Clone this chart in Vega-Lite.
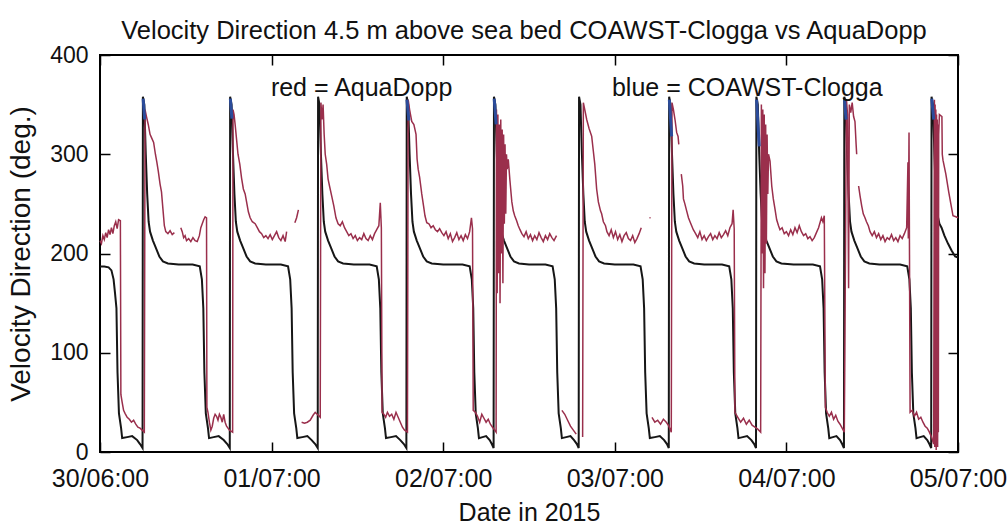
{
"$schema": "https://vega.github.io/schema/vega-lite/v6.json",
"width": 858,
"height": 397,
"autosize": "none",
"padding": {"left": 100, "top": 55, "right": 49, "bottom": 76},
"background": "white",
"config": {"view": {"stroke": "#000000", "strokeWidth": 2}, "font": "Liberation Sans"},
"title": {"text": "Velocity Direction 4.5 m above sea bed COAWST-Clogga vs AquaDopp", "fontSize": 25.5, "fontWeight": "normal", "color": "#111111", "offset": 0, "dx": -5, "font": "Liberation Sans"},
"datasets": {
"model": [
{"h":0,"v":187},{"h":0.6,"v":187},{"h":1.2,"v":186},{"h":1.6,"v":183},{"h":1.9,"v":174},{"h":2.1,"v":160},{"h":2.3,"v":145},{"h":2.45,"v":80},{"h":2.65,"v":39},{"h":2.95,"v":24},{"h":3.1,"v":14},{"h":3.8,"v":15},{"h":4.5,"v":16},{"h":5.2,"v":12},{"h":5.6,"v":8},{"h":5.95,"v":4},
{"h":6.0,"v":358},{"h":6.2,"v":350},{"h":6.4,"v":300},{"h":6.6,"v":260},{"h":6.8,"v":232},{"h":7.0,"v":222},{"h":7.4,"v":213},{"h":7.8,"v":206},{"h":8.3,"v":197},{"h":8.8,"v":192},{"h":9.5,"v":190},{"h":11.0,"v":189},{"h":12.95,"v":189},{"h":13.95,"v":187},{"h":14.25,"v":174},{"h":14.45,"v":145},{"h":14.6,"v":80},{"h":14.8,"v":39},{"h":15.1,"v":24},{"h":15.25,"v":14},{"h":15.9,"v":15},{"h":16.6,"v":16},{"h":17.3,"v":12},{"h":17.8,"v":8},{"h":18.15,"v":4},
{"h":18.2,"v":358},{"h":18.4,"v":350},{"h":18.6,"v":300},{"h":18.8,"v":260},{"h":19.0,"v":232},{"h":19.2,"v":222},{"h":19.6,"v":213},{"h":20.0,"v":206},{"h":20.5,"v":197},{"h":21.0,"v":192},{"h":21.7,"v":190},{"h":23.2,"v":189},{"h":25.3,"v":189},{"h":26.3,"v":187},{"h":26.6,"v":174},{"h":26.8,"v":145},{"h":26.95,"v":80},{"h":27.15,"v":39},{"h":27.45,"v":24},{"h":27.6,"v":14},{"h":28.3,"v":15},{"h":29.0,"v":16},{"h":29.6,"v":12},{"h":30.1,"v":8},{"h":30.45,"v":4},
{"h":30.5,"v":358},{"h":30.7,"v":350},{"h":30.9,"v":300},{"h":31.1,"v":260},{"h":31.3,"v":232},{"h":31.5,"v":222},{"h":31.9,"v":213},{"h":32.3,"v":206},{"h":32.8,"v":197},{"h":33.3,"v":192},{"h":34.0,"v":190},{"h":35.5,"v":189},{"h":37.7,"v":189},{"h":38.7,"v":187},{"h":39.0,"v":174},{"h":39.2,"v":145},{"h":39.35,"v":80},{"h":39.55,"v":39},{"h":39.85,"v":24},{"h":40.0,"v":14},{"h":40.7,"v":15},{"h":41.4,"v":16},{"h":42.0,"v":12},{"h":42.5,"v":8},{"h":42.85,"v":4},
{"h":42.9,"v":358},{"h":43.1,"v":350},{"h":43.3,"v":300},{"h":43.5,"v":260},{"h":43.7,"v":232},{"h":43.9,"v":222},{"h":44.3,"v":213},{"h":44.7,"v":206},{"h":45.2,"v":197},{"h":45.7,"v":192},{"h":46.4,"v":190},{"h":48.0,"v":189},{"h":50.7,"v":189},{"h":51.7,"v":187},{"h":52.0,"v":174},{"h":52.2,"v":145},{"h":52.35,"v":80},{"h":52.55,"v":39},{"h":52.85,"v":24},{"h":53.0,"v":14},{"h":53.5,"v":15},{"h":54.0,"v":16},{"h":54.5,"v":12},{"h":54.8,"v":8},{"h":55.05,"v":4},
{"h":55.1,"v":358},{"h":55.3,"v":350},{"h":55.5,"v":300},{"h":55.7,"v":260},{"h":55.9,"v":232},{"h":56.1,"v":222},{"h":56.5,"v":213},{"h":56.9,"v":206},{"h":57.4,"v":197},{"h":57.9,"v":192},{"h":58.6,"v":190},{"h":60.0,"v":189},{"h":62.3,"v":189},{"h":63.3,"v":187},{"h":63.6,"v":174},{"h":63.8,"v":145},{"h":63.95,"v":80},{"h":64.15,"v":39},{"h":64.45,"v":24},{"h":64.6,"v":14},{"h":65.2,"v":15},{"h":65.8,"v":16},{"h":66.3,"v":12},{"h":66.7,"v":8},{"h":66.95,"v":4},
{"h":67.0,"v":358},{"h":67.2,"v":350},{"h":67.4,"v":300},{"h":67.6,"v":260},{"h":67.8,"v":232},{"h":68.0,"v":222},{"h":68.4,"v":213},{"h":68.8,"v":206},{"h":69.3,"v":197},{"h":69.8,"v":192},{"h":70.5,"v":190},{"h":72.0,"v":189},{"h":74.6,"v":189},{"h":75.6,"v":187},{"h":75.9,"v":174},{"h":76.1,"v":145},{"h":76.25,"v":80},{"h":76.45,"v":39},{"h":76.75,"v":24},{"h":76.9,"v":14},{"h":77.6,"v":15},{"h":78.3,"v":16},{"h":78.9,"v":12},{"h":79.3,"v":8},{"h":79.55,"v":4},
{"h":79.6,"v":358},{"h":79.8,"v":350},{"h":80.0,"v":300},{"h":80.2,"v":260},{"h":80.4,"v":232},{"h":80.6,"v":222},{"h":81.0,"v":213},{"h":81.4,"v":206},{"h":81.9,"v":197},{"h":82.4,"v":192},{"h":83.1,"v":190},{"h":84.5,"v":189},{"h":87.0,"v":189},{"h":88.0,"v":187},{"h":88.3,"v":174},{"h":88.5,"v":145},{"h":88.65,"v":80},{"h":88.85,"v":39},{"h":89.15,"v":24},{"h":89.3,"v":14},{"h":89.9,"v":15},{"h":90.5,"v":16},{"h":91.1,"v":12},{"h":91.5,"v":8},{"h":91.75,"v":4},
{"h":91.8,"v":358},{"h":92.0,"v":350},{"h":92.2,"v":300},{"h":92.4,"v":260},{"h":92.6,"v":232},{"h":92.8,"v":222},{"h":93.2,"v":213},{"h":93.6,"v":206},{"h":94.1,"v":197},{"h":94.6,"v":192},{"h":95.3,"v":190},{"h":97.0,"v":189},{"h":99.7,"v":189},{"h":100.7,"v":187},{"h":101.0,"v":174},{"h":101.2,"v":145},{"h":101.35,"v":80},{"h":101.55,"v":39},{"h":101.85,"v":24},{"h":102.0,"v":14},{"h":102.5,"v":15},{"h":103.0,"v":16},{"h":103.5,"v":12},{"h":103.8,"v":8},{"h":104.05,"v":4},
{"h":104.1,"v":358},{"h":104.3,"v":350},{"h":104.5,"v":300},{"h":104.7,"v":260},{"h":104.9,"v":232},{"h":105.1,"v":222},{"h":105.5,"v":213},{"h":105.9,"v":206},{"h":106.4,"v":197},{"h":106.9,"v":192},{"h":107.6,"v":190},{"h":109.0,"v":189},{"h":111.9,"v":189},{"h":112.9,"v":187},{"h":113.2,"v":174},{"h":113.4,"v":145},{"h":113.55,"v":80},{"h":113.75,"v":39},{"h":114.05,"v":24},{"h":114.2,"v":14},{"h":114.7,"v":15},{"h":115.2,"v":16},{"h":115.7,"v":12},{"h":116.0,"v":8},{"h":116.25,"v":4},
{"h":116.3,"v":358},{"h":116.5,"v":350},{"h":116.7,"v":300},{"h":116.9,"v":260},{"h":117.1,"v":240},{"h":117.4,"v":230},{"h":117.7,"v":226},{"h":118.1,"v":218},{"h":118.6,"v":210},{"h":119.1,"v":203},{"h":119.6,"v":197},{"h":120.0,"v":196}
],
"aquadopp": [
{"h":0,"v":213},{"h":0.2,"v":210},{"h":0.4,"v":218},{"h":0.6,"v":214},{"h":0.8,"v":221},{"h":1.0,"v":216},{"h":1.2,"v":224},{"h":1.4,"v":219},{"h":1.6,"v":226},{"h":1.8,"v":220},{"h":2.0,"v":228},{"h":2.2,"v":232},{"h":2.4,"v":225},{"h":2.6,"v":234},{"h":2.85,"v":233},{"h":2.92,"v":58},{"h":3.1,"v":50},{"h":3.3,"v":42},{"h":3.5,"v":39},{"h":3.8,"v":35},{"h":4.1,"v":33},{"h":4.4,"v":30},{"h":4.7,"v":32},{"h":5.0,"v":28},{"h":5.3,"v":25},{"h":5.6,"v":24},{"h":5.9,"v":22},{"h":6.2,"v":20},
{"h":6.3,"v":345},{"h":6.5,"v":338},{"h":6.75,"v":330},{"h":7.0,"v":320},{"h":7.25,"v":316},{"h":7.5,"v":312},{"h":7.75,"v":300},{"h":7.95,"v":292},{"h":8.15,"v":283},{"h":8.4,"v":270},{"h":8.6,"v":262},{"h":8.8,"v":245},{"h":9.0,"v":228},{"h":9.2,"v":222},{"h":9.5,"v":220},{"h":9.8,"v":223},{"h":10.1,"v":219},{"h":10.4,"v":221},{"h":10.8,"v":null},{"h":11.3,"v":226},{"h":11.5,"v":222},{"h":11.7,"v":216},{"h":11.9,"v":218},{"h":12.1,"v":213},{"h":12.4,"v":215},{"h":12.7,"v":212},{"h":13.0,"v":216},{"h":13.3,"v":213},{"h":13.6,"v":212},{"h":13.9,"v":218},{"h":14.1,"v":226},{"h":14.3,"v":230},{"h":14.5,"v":234},{"h":14.7,"v":237},{"h":14.9,"v":236},{"h":14.95,"v":45},{"h":15.1,"v":40},{"h":15.3,"v":30},{"h":15.5,"v":22},{"h":15.7,"v":26},{"h":15.9,"v":34},{"h":16.1,"v":38},{"h":16.3,"v":36},{"h":16.5,"v":32},{"h":16.7,"v":38},{"h":16.9,"v":35},{"h":17.1,"v":30},{"h":17.3,"v":38},{"h":17.5,"v":30},{"h":17.7,"v":26},{"h":17.9,"v":24},{"h":18.1,"v":22},{"h":18.55,"v":20},
{"h":18.6,"v":345},{"h":18.75,"v":340},{"h":18.9,"v":330},{"h":19.1,"v":315},{"h":19.3,"v":300},{"h":19.55,"v":290},{"h":19.8,"v":276},{"h":20.05,"v":265},{"h":20.3,"v":260},{"h":20.55,"v":250},{"h":20.75,"v":242},{"h":21.0,"v":236},{"h":21.3,"v":232},{"h":21.7,"v":230},{"h":22.0,"v":226},{"h":22.3,"v":222},{"h":22.6,"v":220},{"h":22.9,"v":216},{"h":23.2,"v":218},{"h":23.5,"v":215},{"h":23.8,"v":219},{"h":24.1,"v":214},{"h":24.4,"v":218},{"h":24.7,"v":222},{"h":25.0,"v":216},{"h":25.3,"v":213},{"h":25.6,"v":218},{"h":25.9,"v":212},{"h":26.1,"v":222},{"h":26.6,"v":null},{"h":27.25,"v":231},{"h":27.5,"v":236},{"h":27.75,"v":244},{"h":27.95,"v":null},{"h":28.2,"v":30},{"h":28.6,"v":29},{"h":29.0,"v":30},{"h":29.4,"v":32},{"h":29.8,"v":37},{"h":30.1,"v":40},{"h":30.8,"v":35},
{"h":30.9,"v":352},{"h":31.05,"v":335},{"h":31.2,"v":350},{"h":31.35,"v":320},{"h":31.5,"v":300},{"h":31.7,"v":290},{"h":31.9,"v":275},{"h":32.1,"v":268},{"h":32.4,"v":258},{"h":32.7,"v":248},{"h":33.0,"v":236},{"h":33.3,"v":230},{"h":33.6,"v":228},{"h":33.9,"v":232},{"h":34.2,"v":226},{"h":34.5,"v":222},{"h":34.8,"v":218},{"h":35.1,"v":220},{"h":35.4,"v":215},{"h":35.7,"v":218},{"h":36.0,"v":213},{"h":36.3,"v":216},{"h":36.6,"v":214},{"h":36.9,"v":220},{"h":37.2,"v":215},{"h":37.5,"v":213},{"h":37.8,"v":218},{"h":38.1,"v":214},{"h":38.4,"v":220},{"h":38.7,"v":224},{"h":39.0,"v":228},{"h":39.2,"v":251},{"h":39.35,"v":226},{"h":39.45,"v":40},{"h":39.7,"v":38},{"h":39.95,"v":35},{"h":40.2,"v":40},{"h":40.5,"v":36},{"h":40.8,"v":38},{"h":41.1,"v":33},{"h":41.4,"v":40},{"h":41.7,"v":35},{"h":42.0,"v":30},{"h":42.3,"v":25},{"h":42.6,"v":22},{"h":43.0,"v":20},
{"h":43.1,"v":355},{"h":43.3,"v":345},{"h":43.6,"v":333},{"h":43.9,"v":330},{"h":44.2,"v":320},{"h":44.35,"v":295},{"h":44.5,"v":285},{"h":44.7,"v":277},{"h":45.0,"v":260},{"h":45.25,"v":248},{"h":45.45,"v":238},{"h":45.7,"v":231},{"h":46.0,"v":230},{"h":46.3,"v":226},{"h":46.6,"v":228},{"h":46.9,"v":224},{"h":47.2,"v":222},{"h":47.5,"v":225},{"h":47.8,"v":221},{"h":48.1,"v":218},{"h":48.4,"v":222},{"h":48.7,"v":215},{"h":49.0,"v":220},{"h":49.3,"v":212},{"h":49.6,"v":216},{"h":49.9,"v":221},{"h":50.2,"v":214},{"h":50.5,"v":218},{"h":50.8,"v":213},{"h":51.1,"v":219},{"h":51.4,"v":215},{"h":51.7,"v":222},{"h":51.95,"v":236},{"h":52.1,"v":225},{"h":52.2,"v":42},{"h":52.5,"v":40},{"h":52.8,"v":36},{"h":53.1,"v":30},{"h":53.4,"v":38},{"h":53.7,"v":34},{"h":54.0,"v":30},{"h":54.3,"v":33},{"h":54.6,"v":28},{"h":54.9,"v":25},{"h":55.2,"v":22},{"h":55.4,"v":20},
{"h":55.45,"v":345},{"h":55.55,"v":160},{"h":55.65,"v":340},{"h":55.75,"v":180},{"h":55.85,"v":330},{"h":55.95,"v":150},{"h":56.05,"v":335},{"h":56.15,"v":200},{"h":56.25,"v":325},{"h":56.35,"v":170},{"h":56.45,"v":320},{"h":56.55,"v":230},{"h":56.65,"v":310},{"h":56.75,"v":240},{"h":56.85,"v":300},{"h":56.95,"v":285},{"h":57.1,"v":295},{"h":57.34,"v":273},{"h":57.5,"v":260},{"h":57.6,"v":252},{"h":57.8,"v":243},{"h":58.0,"v":238},{"h":58.27,"v":233},{"h":58.5,"v":228},{"h":58.74,"v":224},{"h":59.0,"v":220},{"h":59.3,"v":217},{"h":59.6,"v":222},{"h":59.9,"v":215},{"h":60.2,"v":219},{"h":60.5,"v":213},{"h":60.8,"v":218},{"h":61.1,"v":214},{"h":61.4,"v":221},{"h":61.7,"v":216},{"h":62.0,"v":212},{"h":62.3,"v":218},{"h":62.6,"v":214},{"h":62.9,"v":220},{"h":63.2,"v":216},{"h":63.5,"v":213},{"h":63.85,"v":218},{"h":64.2,"v":null},{"h":64.6,"v":42},{"h":65.0,"v":38},{"h":65.4,"v":32},{"h":65.8,"v":26},{"h":66.2,"v":22},{"h":66.6,"v":18},{"h":66.9,"v":null},{"h":67.5,"v":15},
{"h":67.6,"v":352},{"h":67.8,"v":345},{"h":68.07,"v":335},{"h":68.4,"v":326},{"h":68.77,"v":318},{"h":69.0,"v":303},{"h":69.2,"v":290},{"h":69.46,"v":265},{"h":69.7,"v":252},{"h":70.0,"v":243},{"h":70.16,"v":240},{"h":70.4,"v":232},{"h":70.7,"v":228},{"h":70.9,"v":222},{"h":71.2,"v":218},{"h":71.5,"v":224},{"h":71.8,"v":216},{"h":72.1,"v":222},{"h":72.4,"v":214},{"h":72.7,"v":219},{"h":73.0,"v":212},{"h":73.3,"v":218},{"h":73.6,"v":221},{"h":73.9,"v":215},{"h":74.2,"v":213},{"h":74.5,"v":218},{"h":74.8,"v":211},{"h":75.1,"v":215},{"h":75.4,"v":220},{"h":75.7,"v":226},{"h":76.2,"v":null},{"h":76.85,"v":236},{"h":77.0,"v":236},{"h":77.1,"v":null},{"h":77.2,"v":35},{"h":77.6,"v":30},{"h":78.0,"v":32},{"h":78.4,"v":28},{"h":78.8,"v":33},{"h":79.2,"v":30},{"h":79.5,"v":27},{"h":79.9,"v":20},
{"h":80.0,"v":352},{"h":80.2,"v":345},{"h":80.42,"v":335},{"h":80.65,"v":322},{"h":80.85,"v":318},{"h":80.95,"v":310},{"h":81.1,"v":null},{"h":81.3,"v":280},{"h":81.5,"v":268},{"h":81.6,"v":255},{"h":81.8,"v":250},{"h":82.05,"v":243},{"h":82.3,"v":236},{"h":82.52,"v":232},{"h":82.75,"v":228},{"h":82.98,"v":224},{"h":83.3,"v":220},{"h":83.6,"v":216},{"h":83.9,"v":222},{"h":84.2,"v":214},{"h":84.5,"v":218},{"h":84.8,"v":213},{"h":85.1,"v":217},{"h":85.4,"v":220},{"h":85.7,"v":214},{"h":86.0,"v":218},{"h":86.3,"v":215},{"h":86.6,"v":221},{"h":86.9,"v":216},{"h":87.2,"v":219},{"h":87.5,"v":223},{"h":87.8,"v":218},{"h":88.1,"v":226},{"h":88.4,"v":230},{"h":88.55,"v":244},{"h":88.7,"v":225},{"h":88.8,"v":40},{"h":89.2,"v":35},{"h":89.6,"v":30},{"h":90.0,"v":34},{"h":90.4,"v":28},{"h":90.8,"v":32},{"h":91.2,"v":27},{"h":91.6,"v":25},{"h":92.0,"v":23},{"h":92.4,"v":20},
{"h":92.5,"v":350},{"h":92.6,"v":200},{"h":92.7,"v":345},{"h":92.8,"v":165},{"h":92.9,"v":340},{"h":93.0,"v":180},{"h":93.1,"v":330},{"h":93.2,"v":210},{"h":93.3,"v":320},{"h":93.4,"v":260},{"h":93.5,"v":300},{"h":93.71,"v":293},{"h":93.95,"v":268},{"h":94.17,"v":255},{"h":94.4,"v":245},{"h":94.64,"v":234},{"h":94.9,"v":228},{"h":95.1,"v":224},{"h":95.4,"v":226},{"h":95.7,"v":220},{"h":96.0,"v":222},{"h":96.3,"v":218},{"h":96.6,"v":224},{"h":96.9,"v":219},{"h":97.2,"v":226},{"h":97.5,"v":221},{"h":97.8,"v":228},{"h":98.1,"v":222},{"h":98.4,"v":218},{"h":98.7,"v":220},{"h":99.0,"v":215},{"h":99.3,"v":217},{"h":99.6,"v":213},{"h":99.9,"v":216},{"h":100.2,"v":221},{"h":100.5,"v":226},{"h":100.9,"v":236},{"h":101.1,"v":232},{"h":101.3,"v":238},{"h":101.45,"v":45},{"h":101.7,"v":40},{"h":102.0,"v":36},{"h":102.3,"v":40},{"h":102.6,"v":33},{"h":102.9,"v":37},{"h":103.2,"v":31},{"h":103.5,"v":28},{"h":103.8,"v":24},{"h":104.1,"v":20},
{"h":104.4,"v":355},{"h":104.55,"v":340},{"h":104.7,"v":165},{"h":104.8,"v":350},{"h":105.0,"v":342},{"h":105.2,"v":352},{"h":105.4,"v":338},{"h":105.59,"v":333},{"h":105.75,"v":310},{"h":105.83,"v":300},{"h":105.95,"v":null},{"h":106.1,"v":268},{"h":106.3,"v":258},{"h":106.53,"v":248},{"h":106.75,"v":240},{"h":106.99,"v":236},{"h":107.2,"v":232},{"h":107.46,"v":228},{"h":107.7,"v":222},{"h":108.0,"v":218},{"h":108.3,"v":222},{"h":108.6,"v":216},{"h":108.9,"v":220},{"h":109.2,"v":214},{"h":109.5,"v":218},{"h":109.8,"v":212},{"h":110.1,"v":216},{"h":110.4,"v":214},{"h":110.7,"v":219},{"h":111.0,"v":213},{"h":111.3,"v":216},{"h":111.6,"v":212},{"h":111.9,"v":218},{"h":112.2,"v":215},{"h":112.5,"v":220},{"h":112.82,"v":226},{"h":113.0,"v":292},{"h":113.05,"v":215},{"h":113.15,"v":322},{"h":113.3,"v":40},{"h":113.6,"v":42},{"h":113.9,"v":36},{"h":114.2,"v":40},{"h":114.5,"v":33},{"h":114.8,"v":35},{"h":115.1,"v":30},{"h":115.4,"v":26},{"h":115.7,"v":24},{"h":116.0,"v":20},{"h":116.3,"v":15},{"h":116.6,"v":8},
{"h":116.7,"v":355},{"h":116.75,"v":5},{"h":116.8,"v":350},{"h":116.85,"v":10},{"h":116.9,"v":345},{"h":116.95,"v":2},{"h":117.0,"v":340},{"h":117.05,"v":15},{"h":117.1,"v":335},{"h":117.15,"v":5},{"h":117.2,"v":330},{"h":117.25,"v":20},{"h":117.3,"v":320},{"h":117.4,"v":340},{"h":117.75,"v":338},{"h":117.8,"v":300},{"h":117.9,"v":294},{"h":118.3,"v":280},{"h":118.7,"v":262},{"h":119.0,"v":250},{"h":119.3,"v":238},{"h":119.7,"v":237},{"h":120.0,"v":236}
],
"peaks": [
{"h":6.03,"v":356},{"h":6.25,"v":335},{"h":12,"v":null},
{"h":18.23,"v":356},{"h":18.45,"v":336},{"h":30,"v":null},
{"h":42.93,"v":355},{"h":43.2,"v":334},{"h":50,"v":null},
{"h":55.13,"v":356},{"h":55.4,"v":330},{"h":60,"v":null},
{"h":79.63,"v":355},{"h":79.95,"v":318},{"h":85,"v":null},
{"h":91.83,"v":355},{"h":92.2,"v":308},{"h":98,"v":null},
{"h":104.13,"v":355},{"h":104.35,"v":335},{"h":110,"v":null},
{"h":116.33,"v":356},{"h":116.6,"v":335}
],
"labels": [
{"label":"red = AquaDopp","h":23.9,"v":367},
{"label":"blue = COAWST-Clogga","h":71.6,"v":367}
]
},
"layer": [
{
"data": {"name": "model"},
"mark": {"type": "line", "color": "#161616", "strokeWidth": 2, "invalid": "break-paths-show-domains"},
"encoding": {
"x": {"field": "h", "type": "quantitative", "scale": {"domain": [0, 120], "nice": false},
"axis": {"orient": "bottom", "values": [0, 24, 48, 72, 96, 120], "labelExpr": "timeFormat(datetime(2015, 5, 30, datum.value), '%d/%m:%H')", "title": "Date in 2015", "domain": false, "grid": false, "tickSize": -10, "tickColor": "#000000", "tickWidth": 1.5, "labelPadding": 24, "labelFontSize": 25, "labelFont": "Liberation Sans", "labelColor": "#111111", "labelFlush": false, "labelOverlap": false, "labelBound": false, "titleFontSize": 25, "titleFont": "Liberation Sans", "titleFontWeight": "normal", "titleColor": "#111111", "titlePadding": 9}},
"y": {"field": "v", "type": "quantitative", "scale": {"domain": [0, 400], "nice": false},
"axis": {"orient": "left", "values": [0, 100, 200, 300, 400], "title": "Velocity Direction (deg.)", "domain": false, "grid": false, "tickSize": -10, "tickColor": "#000000", "tickWidth": 1.5, "labelPadding": 22, "labelFontSize": 23, "labelFont": "Liberation Sans", "labelColor": "#111111", "labelOverlap": false, "titleFontSize": 28, "titleFont": "Liberation Sans", "titleFontWeight": "normal", "titleColor": "#111111", "titlePadding": 14}}
}
},
{
"data": {"name": "aquadopp"},
"mark": {"type": "line", "color": "#9a2f4c", "strokeWidth": 1.5, "invalid": "break-paths-show-domains"},
"encoding": {
"x": {"field": "h", "type": "quantitative", "axis": null},
"y": {"field": "v", "type": "quantitative", "axis": null}
}
},
{
"data": {"name": "peaks"},
"mark": {"type": "line", "color": "#2b4c9b", "strokeWidth": 3, "invalid": "break-paths-show-domains"},
"encoding": {
"x": {"field": "h", "type": "quantitative", "axis": null},
"y": {"field": "v", "type": "quantitative", "axis": null}
}
},
{
"data": {"name": "labels"},
"mark": {"type": "text", "align": "left", "baseline": "middle", "fontSize": 25, "font": "Liberation Sans", "color": "#111111"},
"encoding": {
"x": {"field": "h", "type": "quantitative",
"axis": {"orient": "top", "values": [0, 24, 48, 72, 96, 120], "labels": false, "title": null, "domain": false, "grid": false, "tickSize": -10, "tickColor": "#000000", "tickWidth": 1.5}},
"y": {"field": "v", "type": "quantitative",
"axis": {"orient": "right", "values": [0, 100, 200, 300, 400], "labels": false, "title": null, "domain": false, "grid": false, "tickSize": -10, "tickColor": "#000000", "tickWidth": 1.5}},
"text": {"field": "label"}
}
}
],
"resolve": {"axis": {"x": "independent", "y": "independent"}}
}
